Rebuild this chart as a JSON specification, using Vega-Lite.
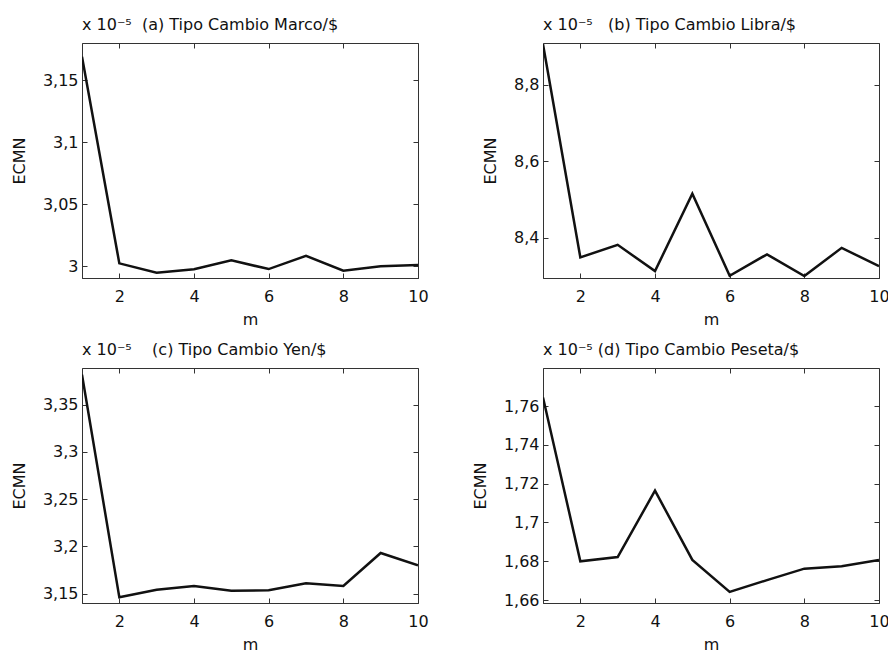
{
  "$schema": "https://vega.github.io/schema/vega-lite/v6.json",
  "padding": {"left": 10, "top": 16, "right": 5, "bottom": 0},
  "background": "white",
  "config": {
    "font": "DejaVu Sans",
    "locale": {"number": {"decimal": ",", "thousands": ".", "grouping": [3], "currency": ["", "€"]}},
    "view": {"stroke": "#333", "strokeWidth": 1},
    "title": {"anchor": "start", "frame": "group", "fontSize": 16, "fontWeight": "normal", "offset": 10, "color": "#111"},
    "axis": {"labelFontSize": 16, "labelColor": "#111", "titleFontSize": 16, "titleFontWeight": "normal", "titleColor": "#111", "domainColor": "#333", "tickColor": "#333", "grid": false, "tickSize": -5, "labelPadding": 9, "labelFlush": false, "labelOverlap": false},
    "axisX": {"labelPadding": 15}
  },
  "datasets": {
    "a": [{"m":1,"v":3.169},{"m":2,"v":3.0024},{"m":3,"v":2.9948},{"m":4,"v":2.9976},{"m":5,"v":3.0048},{"m":6,"v":2.9978},{"m":7,"v":3.0085},{"m":8,"v":2.9965},{"m":9,"v":3.0},{"m":10,"v":3.001}],
    "b": [{"m":1,"v":8.907},{"m":2,"v":8.348},{"m":3,"v":8.381},{"m":4,"v":8.312},{"m":5,"v":8.515},{"m":6,"v":8.300},{"m":7,"v":8.356},{"m":8,"v":8.299},{"m":9,"v":8.373},{"m":10,"v":8.325}],
    "c": [{"m":1,"v":3.382},{"m":2,"v":3.146},{"m":3,"v":3.154},{"m":4,"v":3.158},{"m":5,"v":3.153},{"m":6,"v":3.1535},{"m":7,"v":3.161},{"m":8,"v":3.158},{"m":9,"v":3.193},{"m":10,"v":3.180}],
    "d": [{"m":1,"v":1.7644},{"m":2,"v":1.680},{"m":3,"v":1.6822},{"m":4,"v":1.7164},{"m":5,"v":1.6807},{"m":6,"v":1.6642},{"m":7,"v":1.6703},{"m":8,"v":1.6762},{"m":9,"v":1.6774},{"m":10,"v":1.6807}]
  },
  "columns": 2,
  "bounds": "flush",
  "spacing": {"row": 90, "column": 125},
  "concat": [
    {
      "width": 336, "height": 235,
      "title": "x 10⁻⁵\u00a0\u00a0(a) Tipo Cambio Marco/$",
      "data": {"name": "a"},
      "layer": [
        {"mark": {"type": "line", "color": "#111", "strokeWidth": 2.5, "clip": true},
         "encoding": {
           "x": {"field": "m", "type": "quantitative", "scale": {"domain": [1, 10], "nice": false}, "axis": {"values": [2,4,6,8,10], "format": "d", "title": "m", "titleY": 41, "titleBaseline": "middle"}},
           "y": {"field": "v", "type": "quantitative", "scale": {"domain": [2.9906, 3.18], "nice": false, "zero": false}, "axis": {"values": [3, 3.05, 3.1, 3.15], "format": "~g", "title": "ECMN", "titleX": -63, "titleBaseline": "middle"}}
         }},
        {"mark": {"type": "line", "opacity": 0},
         "encoding": {
           "x": {"field": "m", "type": "quantitative", "scale": {"domain": [1, 10], "nice": false}, "axis": {"orient": "top", "values": [2,4,6,8,10], "labels": false, "title": null, "domain": false}},
           "y": {"field": "v", "type": "quantitative", "scale": {"domain": [2.9906, 3.18], "nice": false, "zero": false}, "axis": {"orient": "right", "values": [3, 3.05, 3.1, 3.15], "labels": false, "title": null, "domain": false}}
         }}
      ],
      "resolve": {"axis": {"x": "independent", "y": "independent"}}
    },
    {
      "width": 336, "height": 235,
      "title": "x 10⁻⁵\u00a0\u00a0\u00a0(b) Tipo Cambio Libra/$",
      "data": {"name": "b"},
      "layer": [
        {"mark": {"type": "line", "color": "#111", "strokeWidth": 2.5, "clip": true},
         "encoding": {
           "x": {"field": "m", "type": "quantitative", "scale": {"domain": [1, 10], "nice": false}, "axis": {"values": [2,4,6,8,10], "format": "d", "title": "m", "titleY": 41, "titleBaseline": "middle"}},
           "y": {"field": "v", "type": "quantitative", "scale": {"domain": [8.294, 8.91], "nice": false, "zero": false}, "axis": {"values": [8.4, 8.6, 8.8], "format": "~g", "title": "ECMN", "titleX": -53, "titleBaseline": "middle"}}
         }},
        {"mark": {"type": "line", "opacity": 0},
         "encoding": {
           "x": {"field": "m", "type": "quantitative", "scale": {"domain": [1, 10], "nice": false}, "axis": {"orient": "top", "values": [2,4,6,8,10], "labels": false, "title": null, "domain": false}},
           "y": {"field": "v", "type": "quantitative", "scale": {"domain": [8.294, 8.91], "nice": false, "zero": false}, "axis": {"orient": "right", "values": [8.4, 8.6, 8.8], "labels": false, "title": null, "domain": false}}
         }}
      ],
      "resolve": {"axis": {"x": "independent", "y": "independent"}}
    },
    {
      "width": 336, "height": 235,
      "title": "x 10⁻⁵\u00a0\u00a0\u00a0\u00a0(c) Tipo Cambio Yen/$",
      "data": {"name": "c"},
      "layer": [
        {"mark": {"type": "line", "color": "#111", "strokeWidth": 2.5, "clip": true},
         "encoding": {
           "x": {"field": "m", "type": "quantitative", "scale": {"domain": [1, 10], "nice": false}, "axis": {"values": [2,4,6,8,10], "format": "d", "title": "m", "titleY": 41, "titleBaseline": "middle"}},
           "y": {"field": "v", "type": "quantitative", "scale": {"domain": [3.14, 3.389], "nice": false, "zero": false}, "axis": {"values": [3.15, 3.2, 3.25, 3.3, 3.35], "format": "~g", "title": "ECMN", "titleX": -63, "titleBaseline": "middle"}}
         }},
        {"mark": {"type": "line", "opacity": 0},
         "encoding": {
           "x": {"field": "m", "type": "quantitative", "scale": {"domain": [1, 10], "nice": false}, "axis": {"orient": "top", "values": [2,4,6,8,10], "labels": false, "title": null, "domain": false}},
           "y": {"field": "v", "type": "quantitative", "scale": {"domain": [3.14, 3.389], "nice": false, "zero": false}, "axis": {"orient": "right", "values": [3.15, 3.2, 3.25, 3.3, 3.35], "labels": false, "title": null, "domain": false}}
         }}
      ],
      "resolve": {"axis": {"x": "independent", "y": "independent"}}
    },
    {
      "width": 336, "height": 235,
      "title": "x 10⁻⁵\u00a0(d) Tipo Cambio Peseta/$",
      "data": {"name": "d"},
      "layer": [
        {"mark": {"type": "line", "color": "#111", "strokeWidth": 2.5, "clip": true},
         "encoding": {
           "x": {"field": "m", "type": "quantitative", "scale": {"domain": [1, 10], "nice": false}, "axis": {"values": [2,4,6,8,10], "format": "d", "title": "m", "titleY": 41, "titleBaseline": "middle"}},
           "y": {"field": "v", "type": "quantitative", "scale": {"domain": [1.6585, 1.7796], "nice": false, "zero": false}, "axis": {"values": [1.66, 1.68, 1.7, 1.72, 1.74, 1.76], "format": "~g", "title": "ECMN", "titleX": -63, "titleBaseline": "middle"}}
         }},
        {"mark": {"type": "line", "opacity": 0},
         "encoding": {
           "x": {"field": "m", "type": "quantitative", "scale": {"domain": [1, 10], "nice": false}, "axis": {"orient": "top", "values": [2,4,6,8,10], "labels": false, "title": null, "domain": false}},
           "y": {"field": "v", "type": "quantitative", "scale": {"domain": [1.6585, 1.7796], "nice": false, "zero": false}, "axis": {"orient": "right", "values": [1.66, 1.68, 1.7, 1.72, 1.74, 1.76], "labels": false, "title": null, "domain": false}}
         }}
      ],
      "resolve": {"axis": {"x": "independent", "y": "independent"}}
    }
  ]
}
